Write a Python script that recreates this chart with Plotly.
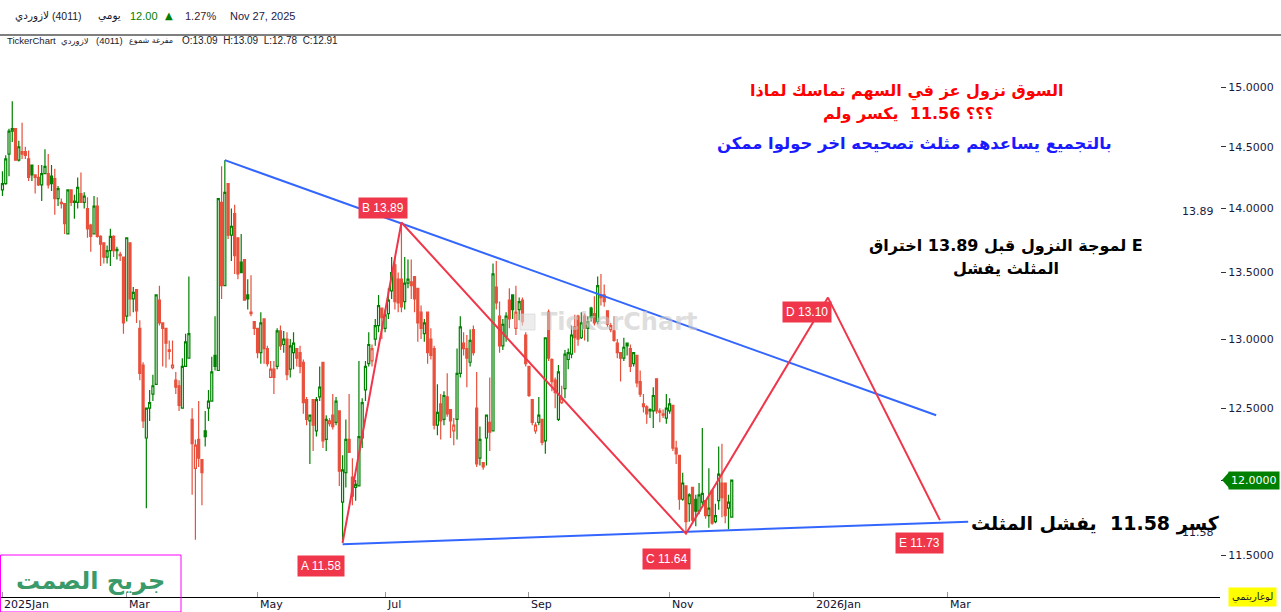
import math
import pandas as pd
import plotly.graph_objects as go

# ---------------- data ----------------
HOLIDAYS = ["2025-02-23", "2025-03-30", "2025-03-31", "2025-04-01", "2025-04-02",
            "2025-06-05", "2025-06-08", "2025-06-09", "2025-06-10", "2025-09-23"]
dates = pd.bdate_range("2025-01-06", "2025-11-27", freq="C",
                       weekmask="Sun Mon Tue Wed Thu", holidays=HOLIDAYS)

opens = [14.15,14.20,14.44,14.63,14.65,14.39,14.46,14.46,14.40,14.35,
14.27,14.25,14.19,14.28,14.28,14.26,14.24,14.08,14.05,14.04,
13.80,14.15,14.05,14.05,14.12,14.05,14.00,13.87,13.80,14.02,
13.78,13.73,13.62,13.67,13.78,13.67,13.64,13.62,13.17,13.73,
13.30,13.37,13.08,12.81,12.29,12.50,12.60,12.67,13.29,13.12,
13.08,12.92,12.79,12.70,12.66,12.50,12.80,12.86,12.42,12.08,
12.28,12.14,12.34,12.50,12.55,12.88,12.77,14.05,13.40,14.20,
13.79,13.96,13.77,13.58,13.60,13.33,
13.20,13.13,13.08,12.90,13.15,12.93,12.72,12.78,12.80,13.06,
12.96,13.00,12.78,12.90,12.93,12.90,12.83,12.56,12.41,12.56,
12.34,12.58,12.83,12.28,12.39,12.45,12.40,12.48,11.85,12.05,
12.28,12.02,11.95,11.96,12.29,12.63,12.82,12.84,13.00,13.10,
13.23,13.08,13.19,13.36,13.56,13.45,13.45,13.28,13.42,13.43,
13.47,13.38,13.20,13.04,13.20,13.00,12.93,12.38,12.53,12.42,
12.58,12.49,12.34,12.42,12.75,12.97,12.93,12.83,13.07,12.50,
12.15,12.12,12.29,12.40,
12.34,13.39,13.17,12.95,13.02,13.29,13.33,13.08,13.22,13.29,
13.03,12.80,12.56,12.34,12.40,12.42,12.27,13.20,12.85,12.70,
12.42,12.54,12.64,12.85,12.89,13.09,13.17,13.01,13.17,13.08,
13.23,13.19,13.13,13.33,13.33,13.21,13.07,13.06,12.97,12.90,
12.86,12.97,12.93,12.82,12.88,12.69,12.53,12.51,12.49,12.48,
12.71,12.48,12.45,12.43,12.48,12.52,12.22,12.17,11.87,11.96,
11.84,11.95,11.87,11.79,11.85,11.86,11.76,11.93,11.72,11.86,
11.98,11.98,11.81,11.75]

highs = [14.30,14.43,14.65,14.88,14.65,14.55,14.70,14.50,14.47,14.35,
14.27,14.35,14.35,14.48,14.44,14.35,14.32,14.18,14.08,14.04,
14.15,14.15,14.11,14.25,14.29,14.13,14.09,13.88,14.10,14.09,
13.79,13.73,13.71,13.84,13.79,13.70,13.66,13.62,13.77,13.73,
13.39,13.37,13.14,12.83,12.50,12.63,12.74,13.33,13.40,13.12,
13.08,12.99,12.99,12.76,12.70,12.86,13.04,13.47,12.50,12.28,
12.55,12.14,12.48,12.63,12.87,13.17,14.08,14.34,14.39,14.20,
14.00,14.03,13.77,13.80,13.60,13.45,
13.48,13.13,13.08,13.20,13.15,12.95,12.84,12.84,13.08,13.10,
13.06,13.05,13.00,13.05,12.93,12.95,12.85,12.58,12.45,12.56,
12.58,12.80,12.83,12.45,12.43,12.60,12.58,12.48,12.17,12.42,
12.60,12.15,12.00,12.84,12.57,12.84,13.05,12.96,13.15,13.33,
13.23,13.22,13.38,13.62,13.62,13.50,13.89,13.62,13.60,13.60,
13.47,13.38,13.25,13.15,13.20,13.08,12.95,12.67,12.60,12.62,
12.75,12.49,12.43,12.93,13.17,13.05,13.03,13.07,13.10,12.76,
12.37,12.12,12.45,12.72,
13.57,13.59,13.28,13.15,13.20,13.38,13.33,13.40,13.31,13.31,
13.05,12.80,12.56,12.40,12.58,12.42,13.01,13.22,12.86,12.72,
12.81,12.66,12.92,12.93,13.10,13.18,13.18,13.20,13.19,13.17,
13.24,13.32,13.47,13.49,13.41,13.21,13.12,13.17,13.00,12.90,
13.01,12.97,12.96,12.90,12.88,12.77,12.60,12.52,12.50,12.65,
12.71,12.50,12.49,12.60,12.57,12.52,12.27,12.17,12.05,11.96,
11.91,11.95,11.90,11.98,12.36,11.86,12.08,11.93,11.84,12.23,
12.25,11.98,11.90,12.00]

lows = [14.10,14.19,14.26,14.54,14.39,14.38,14.40,14.40,14.22,14.22,
14.12,14.18,14.06,14.28,14.16,14.14,13.95,14.02,14.00,13.80,
13.80,14.02,13.92,14.00,14.05,14.00,13.77,13.66,13.80,13.77,
13.55,13.57,13.57,13.55,13.62,13.60,13.59,13.04,13.13,13.17,
13.20,13.12,12.70,12.36,11.81,12.41,12.55,12.67,13.10,12.80,
12.79,12.85,12.78,12.60,12.48,12.50,12.80,12.86,11.90,11.60,
12.09,11.83,12.23,12.41,12.55,12.77,12.77,13.30,13.40,13.76,
13.59,13.49,13.45,13.50,13.29,13.22,
13.17,13.03,12.86,12.82,12.82,12.80,12.72,12.60,12.78,12.92,
12.90,12.70,12.72,12.78,12.80,12.75,12.46,12.38,12.11,12.20,
12.30,12.55,12.22,12.20,12.37,12.35,12.38,11.96,11.58,11.95,
12.19,11.83,11.86,11.96,12.22,12.55,12.80,12.80,12.95,13.05,
13.00,13.05,13.15,13.30,13.22,13.20,13.20,13.22,13.38,13.30,
13.20,12.98,13.00,12.98,12.82,12.85,12.35,12.31,12.28,12.38,
12.44,12.29,12.24,12.28,12.72,12.88,12.65,12.80,12.88,12.09,
12.10,12.07,12.10,12.20,
12.34,13.22,12.90,12.92,12.98,13.08,13.15,13.03,13.14,13.10,
12.80,12.58,12.38,12.32,12.38,12.24,12.18,12.84,12.62,12.50,
12.41,12.53,12.57,12.78,12.86,12.90,12.95,13.00,12.99,12.98,
13.13,13.10,13.11,13.25,13.24,13.09,13.05,12.98,12.86,12.69,
12.84,12.88,12.76,12.80,12.65,12.58,12.47,12.39,12.43,12.36,
12.46,12.40,12.43,12.39,12.46,12.20,12.11,11.80,11.86,11.64,
11.72,11.72,11.69,11.77,11.83,11.74,11.68,11.70,11.71,11.80,
11.75,11.71,11.67,11.75]

closes = [14.20,14.40,14.63,14.65,14.39,14.50,14.44,14.43,14.25,14.27,
14.25,14.19,14.28,14.34,14.19,14.20,14.08,14.16,14.04,13.88,
14.15,14.05,14.06,14.17,14.05,14.10,13.84,13.78,14.02,13.78,
13.72,13.62,13.67,13.78,13.67,13.68,13.63,13.12,13.77,13.30,
13.35,13.21,12.75,12.41,12.50,12.54,12.66,13.33,13.12,13.08,
12.97,12.91,12.81,12.65,12.52,12.80,12.98,13.04,12.25,12.24,
12.15,12.05,12.30,12.55,12.76,12.80,14.08,13.40,14.13,13.79,
13.86,13.63,13.49,13.50,13.29,13.30,
13.19,13.08,12.90,13.12,12.93,12.82,12.78,12.72,13.06,12.95,
13.00,12.74,12.95,12.97,12.86,12.80,12.54,12.42,12.45,12.38,
12.56,12.65,12.27,12.42,12.41,12.37,12.55,12.06,12.07,12.28,
12.19,11.89,11.97,12.30,12.54,12.80,12.96,12.93,13.10,13.25,
13.16,13.18,13.29,13.50,13.28,13.27,13.24,13.42,13.45,13.40,
13.30,13.12,13.08,13.12,12.90,12.88,12.38,12.47,12.41,12.59,
12.46,12.41,12.38,12.75,13.09,12.93,12.86,12.99,12.90,12.11,
12.28,12.09,12.45,12.33,
13.49,13.27,12.95,13.11,13.17,13.15,13.22,13.20,13.28,13.13,
12.82,12.59,12.40,12.38,12.45,12.26,13.01,12.86,12.69,12.61,
12.76,12.57,12.89,12.90,13.03,13.01,13.00,13.12,13.08,13.13,
13.16,13.12,13.40,13.31,13.28,13.11,13.10,12.99,12.90,12.86,
12.94,12.95,12.80,12.90,12.68,12.60,12.51,12.46,12.48,12.59,
12.48,12.47,12.46,12.50,12.53,12.22,12.18,11.87,11.98,11.72,
11.90,11.73,11.79,11.90,11.91,11.76,11.81,11.71,11.76,12.04,
11.88,11.76,11.85,12.00]

# pattern (ABCDE) points
wave_names = ["A", "B", "C", "D", "E"]
wave_dates = ["2025-06-12", "2025-07-08", "2025-11-09", "2026-01-07 10:00", "2026-02-24 16:00"]
wave_values = [11.58, 13.89, 11.64, 13.10, 11.73]
wave_line_prices = [11.58, 13.89, 11.64, 13.31, 11.73]

# triangle trend lines
upper_dates = ["2025-04-17", "2026-02-23 12:00"]
upper_prices = [14.39, 12.45]
lower_dates = ["2025-06-12", "2026-03-09 07:00"]
lower_prices = [11.57, 11.72]

# horizontal levels
level_values = [13.89, 11.58]
level_start = ["2025-07-08", "2025-06-12"]

# axis ticks
x_tick_dates = ["2025-01-06", "2025-03-02", "2025-05-01", "2025-07-01", "2025-09-01",
                "2025-11-02", "2026-01-01", "2026-03-01"]
x_tick_text = ["2025Jan", "Mar", "May", "Jul", "Sep", "Nov", "2026Jan", "Mar"]
y_ticks = [11.5, 12.0, 12.5, 13.0, 13.5, 14.0, 14.5, 15.0]

last_price = 12.00
X_START, X_END = "2025-01-05 06:00", "2026-06-24 07:00"
Y_MIN, Y_MAX = 11.229, 15.45

# ---------------- styling helpers ----------------
GREEN = "#008000"
RED = "#e8503c"
WAVE = "#f0364a"
BLUE = "#3366ff"
AR = "DejaVu Sans"
LAT = "Liberation Sans"
LRM = "\u200e"

PLOT_W, PLOT_T, PLOT_B = 1220, 35, 597


def px(x):
    return x / PLOT_W


def py(y):
    return (PLOT_B - y) / (PLOT_B - PLOT_T)


def words_ltr(s):
    """Show the words left-to-right in the order they are written (as the source app does)."""
    return " ".join(reversed(s.split(" ")))


fig = go.Figure()

# colour by close vs previous close, hollow when close > open
is_up = [True] + [closes[i] >= closes[i - 1] for i in range(1, len(closes))]
for flag, col in ((True, GREEN), (False, RED)):
    idx = [i for i in range(len(closes)) if is_up[i] == flag]
    fig.add_trace(go.Candlestick(
        x=[dates[i] for i in idx],
        open=[opens[i] for i in idx], high=[highs[i] for i in idx],
        low=[lows[i] for i in idx], close=[closes[i] for i in idx],
        increasing=dict(line=dict(color=col, width=1.2), fillcolor="white"),
        decreasing=dict(line=dict(color=col, width=1.2), fillcolor=col),
        whiskerwidth=0, showlegend=False, hoverinfo="skip"))

# blue triangle lines
fig.add_trace(go.Scatter(x=upper_dates, y=upper_prices, mode="lines",
                         line=dict(color=BLUE, width=2), showlegend=False, hoverinfo="skip"))
fig.add_trace(go.Scatter(x=lower_dates, y=lower_prices, mode="lines",
                         line=dict(color=BLUE, width=2), showlegend=False, hoverinfo="skip"))
# red ABCDE zigzag
fig.add_trace(go.Scatter(x=wave_dates, y=wave_line_prices, mode="lines",
                         line=dict(color=WAVE, width=2), showlegend=False, hoverinfo="skip"))

shapes = []
annotations = []

# horizontal level lines with labels
for v, d in zip(level_values, level_start):
    shapes.append(dict(type="line", xref="x", yref="y", x0=d, x1="2026-06-23 18:00",
                       y0=math.log10(v), y1=math.log10(v), line=dict(color="black", width=2)))
    annotations.append(dict(xref="paper", yref="y", x=px(1216), y=math.log10(v), text=f"{v:.2f}",
                            showarrow=False, xanchor="right", yanchor="bottom", yshift=2,
                            font=dict(family=AR, size=11, color="#1a1a40")))

# wave labels
label_shift = {"A": (-22, -23), "B": (-18, 14), "C": (-19, -25), "D": (-21, -14), "E": (-20, -23)}
for n, d, v, lv in zip(wave_names, wave_dates, wave_values, wave_line_prices):
    sx, sy = label_shift[n]
    annotations.append(dict(xref="x", yref="y", x=d, y=math.log10(lv), text=f"{n} {v:.2f}",
                            showarrow=False, xshift=sx, yshift=sy, bgcolor=WAVE, borderpad=3,
                            font=dict(family=LAT, size=12, color="white")))


def text_px(text, x, y, size, color, anchor="center", family=AR):
    annotations.append(dict(xref="paper", yref="paper", x=px(x), y=py(y), text=text,
                            showarrow=False, xanchor=anchor, yanchor="middle",
                            font=dict(family=family, size=size, color=color)))


# commentary
text_px("<b>" + words_ltr("لماذا تماسك السهم في عز نزول السوق") + "</b>", 907, 91, 16, "#ff0000")
text_px("<b>" + words_ltr("ولم يكسر  11.56 ؟؟؟") + "</b>", 908, 113, 16, "#ff0000")
text_px("<b>" + words_ltr("ممكن حولوا اخر تصحيحه مثلث يساعدهم بالتجميع") + "</b>", 914, 143, 16.4, "#1a1aff")
text_px("<b>" + LRM + words_ltr("اختراق 13.89 قبل النزول لموجة") + " E</b>", 1006, 246, 16, "black")
text_px("<b>" + words_ltr("يفشل المثلث") + "</b>", 1006, 268, 16, "black")
text_px("<b>كسر 11.58  يفشل المثلث</b>", 1222, 523, 19, "black", anchor="right")

# watermark with logo square
shapes.append(dict(type="rect", xref="paper", yref="paper", x0=px(520), x1=px(535), y0=py(330), y1=py(314),
                   fillcolor="rgba(225,225,225,0.6)", line=dict(color="rgba(210,210,210,0.6)", width=1)))
text_px("<b>TickerChart</b>", 619, 322, 24, "rgba(200,200,200,0.6)")

# header
text_px("لازوردي", 13, 16, 10.5, "#1a1a2a", anchor="left")
text_px("(4011)", 50, 16, 10.5, "#1a1a2a", anchor="left", family=LAT)
text_px("يومي", 96, 16, 10.5, "#1a1a2a", anchor="left")
text_px(f"{last_price:.2f}", 128, 16, 11, GREEN, anchor="left", family=LAT)
text_px("▲", 163, 16, 10, GREEN, anchor="left")
text_px("1.27%", 183, 16, 11, "#3d1a33", anchor="left", family=LAT)
text_px("Nov 27, 2025", 228, 16, 11, "#1a1a4a", anchor="left", family=LAT)
text_px("TickerChart", 5, 41, 9.5, "#1a1a2a", anchor="left", family=LAT)
text_px("لازوردي", 59, 41, 8.5, "#1a1a2a", anchor="left")
text_px("(4011)", 94, 41, 9.5, "#1a1a2a", anchor="left", family=LAT)
text_px(words_ltr("شموع مفرغة"), 127, 41, 8, "#1a1a2a", anchor="left")
text_px("O:13.09  H:13.09  L:12.78  C:12.91", 180, 41, 10, "#1a1a2a", anchor="left", family=LAT)
shapes.append(dict(type="line", xref="paper", yref="paper", x0=0, x1=px(1281), y0=1, y1=1,
                   line=dict(color="black", width=1)))

# signature box
shapes.append(dict(type="rect", xref="paper", yref="paper", x0=px(0.5), x1=px(181), y0=py(612), y1=py(555),
                   line=dict(color="#ff00ff", width=1)))
text_px("<b>جريح الصمت</b>", 90, 581, 24, "#3a9a6a")

# x tick labels (left aligned at tick)
for d, t in zip(x_tick_dates, x_tick_text):
    annotations.append(dict(xref="x", yref="paper", x=d, y=py(604), text=t, showarrow=False,
                            xanchor="left", yanchor="middle",
                            font=dict(family=AR, size=11, color="#101030")))

# last price tag and log label
annotations.append(dict(xref="paper", yref="y", x=px(1228), y=math.log10(last_price),
                        text=f"{last_price:.4f}", showarrow=False, xanchor="left", bgcolor=GREEN,
                        borderpad=2, font=dict(family=AR, size=11, color="white")))
shapes.append(dict(type="path", xref="paper", yref="paper",
                   path=f"M {px(1222)},{py(480)} L {px(1229)},{py(472)} L {px(1229)},{py(488)} Z",
                   fillcolor=GREEN, line=dict(width=0)))
annotations.append(dict(xref="paper", yref="paper", x=px(1228), y=py(597), text="لوغاريتمي",
                        showarrow=False, xanchor="left", yanchor="middle", bgcolor="#ffff00",
                        borderpad=3, font=dict(family=AR, size=10, color="#1a1a2a")))

fig.update_layout(
    width=1281, height=612,
    margin=dict(l=0, r=61, t=35, b=15, pad=0),
    paper_bgcolor="white", plot_bgcolor="white",
    boxgap=0.12,
    shapes=shapes, annotations=annotations,
    xaxis=dict(type="date", range=[X_START, X_END], rangeslider=dict(visible=False),
               rangebreaks=[dict(pattern="day of week", bounds=[5, 0]), dict(values=HOLIDAYS)],
               showgrid=False, zeroline=False, showline=True, linecolor="black", linewidth=1,
               tickvals=x_tick_dates, showticklabels=False, ticks="inside", ticklen=5,
               tickcolor="#999999"),
    yaxis=dict(type="log", range=[math.log10(Y_MIN), math.log10(Y_MAX)], side="right",
               showgrid=False, zeroline=False, showline=False,
               tickvals=y_ticks, ticktext=["" if v == last_price else f"{v:.4f}" for v in y_ticks],
               ticks="outside", ticklen=5, tickcolor="#333333",
               tickfont=dict(family=AR, size=11, color="#1a1a40")),
)

fig.write_html("out.html", config={"displayModeBar": False},
               post_script=["document.body.style.margin='0';"])
